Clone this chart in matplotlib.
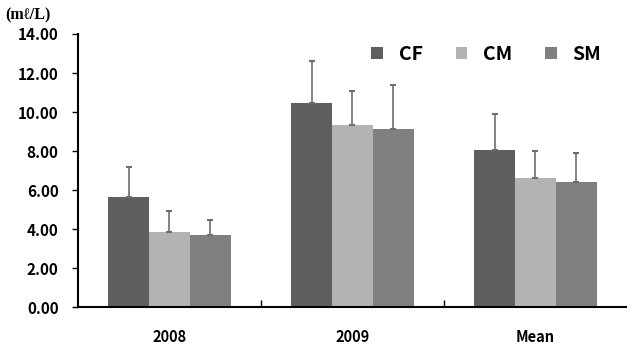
import numpy as np
import matplotlib
matplotlib.use("Agg")
import matplotlib.pyplot as plt

plt.rcParams['font.family'] = ['Noto Sans CJK KR', 'DejaVu Sans']
plt.rcParams['font.weight'] = 'bold'

# data
categories = ['2008', '2009', 'Mean']
series = ['CF', 'CM', 'SM']
cf_vals = [5.64, 10.45, 8.05]
cm_vals = [3.86, 9.32, 6.60]
sm_vals = [3.70, 9.12, 6.42]
cf_err = [1.55, 2.15, 1.85]
cm_err = [1.06, 1.76, 1.40]
sm_err = [0.77, 2.24, 1.48]
yticks = [0, 2, 4, 6, 8, 10, 12, 14]

colors = ['#5f5f5f', '#b3b3b3', '#808080']

fig = plt.figure(figsize=(6.27, 3.48), dpi=100)
ax = fig.add_axes([0.1244, 0.1178, 0.8756, 0.7845])

x = np.arange(len(categories))
w = 0.223
vals = [cf_vals, cm_vals, sm_vals]
errs = [cf_err, cm_err, sm_err]
for i, (name, v, e) in enumerate(zip(series, vals, errs)):
    ax.bar(x + (i - 1) * w, v, width=w, color=colors[i], label=name, zorder=2)
    ax.errorbar(x + (i - 1) * w, v, yerr=[np.zeros(len(v)), e], fmt='none',
                ecolor='#6e6e6e', elinewidth=1.2, capsize=2, capthick=1.5, zorder=3)

ax.set_xlim(-0.5, 2.5)
ax.set_ylim(0, 14)
ax.set_yticks(yticks)
ax.set_yticklabels([f'{t:.2f}' for t in yticks], fontsize=11, fontweight='bold')
ax.set_xticks(x)
ax.set_xticklabels(categories, fontsize=10.5, fontweight='bold')
ax.tick_params(axis='x', length=0, pad=16)
ax.tick_params(axis='y', direction='out', length=4, width=1, pad=10)
ax.set_xticks([0.5, 1.5], minor=True)
ax.tick_params(axis='x', which='minor', direction='in', length=5, width=1)

for s in ['top', 'right']:
    ax.spines[s].set_visible(False)
for s in ['left', 'bottom']:
    ax.spines[s].set_linewidth(1.5)

fig.text(0.008, 0.945, '(mℓ/L)', fontsize=11.5, fontweight='bold',
         family=['Liberation Serif', 'DejaVu Sans'])

ax.legend(loc='upper right', bbox_to_anchor=(0.985, 1.025), ncol=3, frameon=False,
          handlelength=0.6, handleheight=0.6, handletextpad=0.8, columnspacing=1.7,
          prop={'size': 14, 'weight': 'bold'})

fig.savefig('out.png', dpi=100)
